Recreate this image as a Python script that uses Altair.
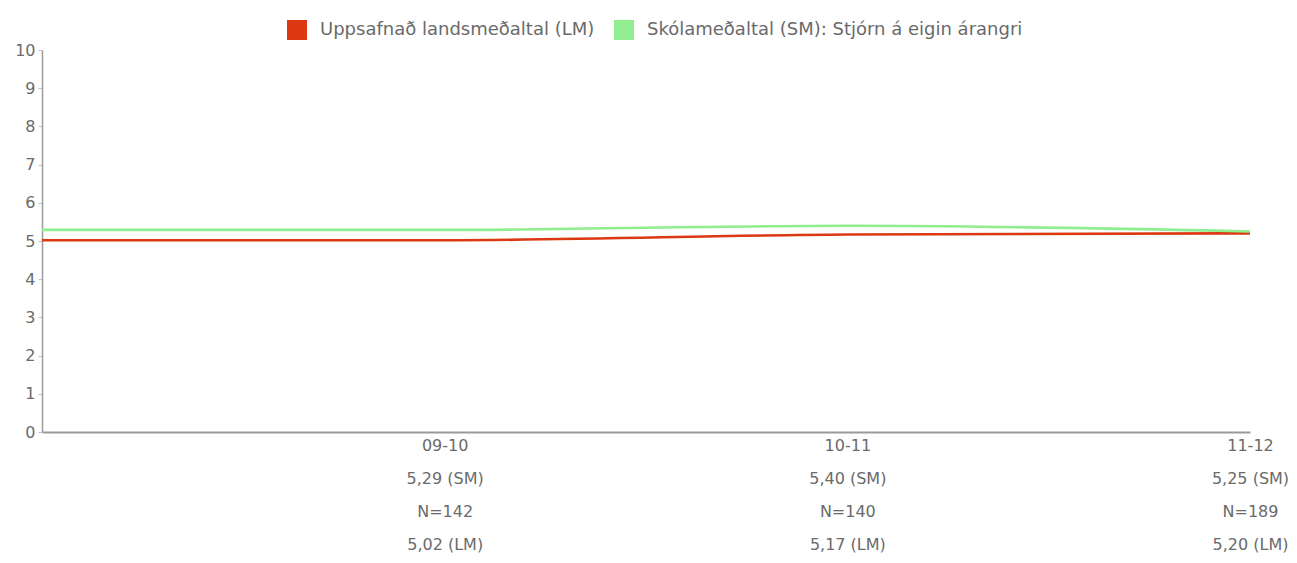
import json
import altair as alt
import pandas as pd

# data
periods = ["", "09-10", "10-11", "11-12"]
lm_values = [5.02, 5.02, 5.17, 5.20]
sm_values = [5.29, 5.29, 5.40, 5.25]
n_values = ["", "N=142", "N=140", "N=189"]
lm_name = "Uppsafnað landsmeðaltal (LM)"
sm_name = "Skólameðaltal (SM): Stjórn á eigin árangri"
series_names = [lm_name, sm_name]
series_colors = ["#dc3912", "#90ee90"]

rows = []
for i, p in enumerate(periods):
    rows.append({"x": i, "series": lm_name, "value": lm_values[i]})
    rows.append({"x": i, "series": sm_name, "value": sm_values[i]})
df = pd.DataFrame(rows)

def fmt(v):
    return f"{v:.2f}".replace(".", ",")

label_lines = [[""]] + [
    [periods[i], f"{fmt(sm_values[i])} (SM)", n_values[i], f"{fmt(lm_values[i])} (LM)"]
    for i in range(1, len(periods))
]
label_expr = json.dumps(label_lines, ensure_ascii=False) + "[datum.value]"

font = "DejaVu Sans"
grey = "#6a6a6a"

x_enc = alt.X(
    "x:Q",
    scale=alt.Scale(domain=[0, 3], nice=False, zero=False),
    axis=alt.Axis(
        title=None,
        values=[1, 2, 3],
        labelExpr=label_expr,
        ticks=False,
        grid=False,
        domainColor="#9a9a9a",
        domainWidth=2,
        labelColor=grey,
        labelFont=font,
        labelFontSize=16,
        labelLineHeight=33,
        labelPadding=5,
        labelAlign="center",
        labelBaseline="top",
        labelFlush=False,
        labelOverlap=False,
    ),
)
y_enc = alt.Y(
    "value:Q",
    scale=alt.Scale(domain=[0, 10], nice=False),
    axis=alt.Axis(
        title=None,
        values=list(range(0, 11)),
        grid=False,
        tickSize=4,
        tickColor="#c4c4c4",
        domainColor="#9a9a9a",
        domainWidth=1.5,
        labelColor=grey,
        labelFont=font,
        labelFontSize=16,
        labelPadding=3,
    ),
)
color_scale = alt.Scale(domain=series_names, range=series_colors)

chart = (
    alt.Chart(df)
    .mark_line(interpolate="monotone", strokeWidth=2.6)
    .encode(
        x=x_enc,
        y=y_enc,
        color=alt.Color(
            "series:N",
            scale=color_scale,
            legend=alt.Legend(
                title=None,
                orient="none",
                direction="horizontal",
                legendX=245,
                legendY=-30,
                symbolType="square",
                symbolSize=4,
                symbolStrokeWidth=18,
                symbolOpacity=1,
                labelFont=font,
                labelFontSize=18,
                labelColor=grey,
                labelLimit=600,
                columnPadding=-8,
                labelOffset=13,
            ),
        ),
    )
    .properties(
        width=1208,
        height=382,
        padding={"left": 34, "top": 42, "right": 39, "bottom": 123},
        autosize=alt.AutoSizeParams(type="none"),
    )
    .configure_view(stroke=None)
)

chart.save("out.html", embed_options={"renderer": "svg", "actions": False})
